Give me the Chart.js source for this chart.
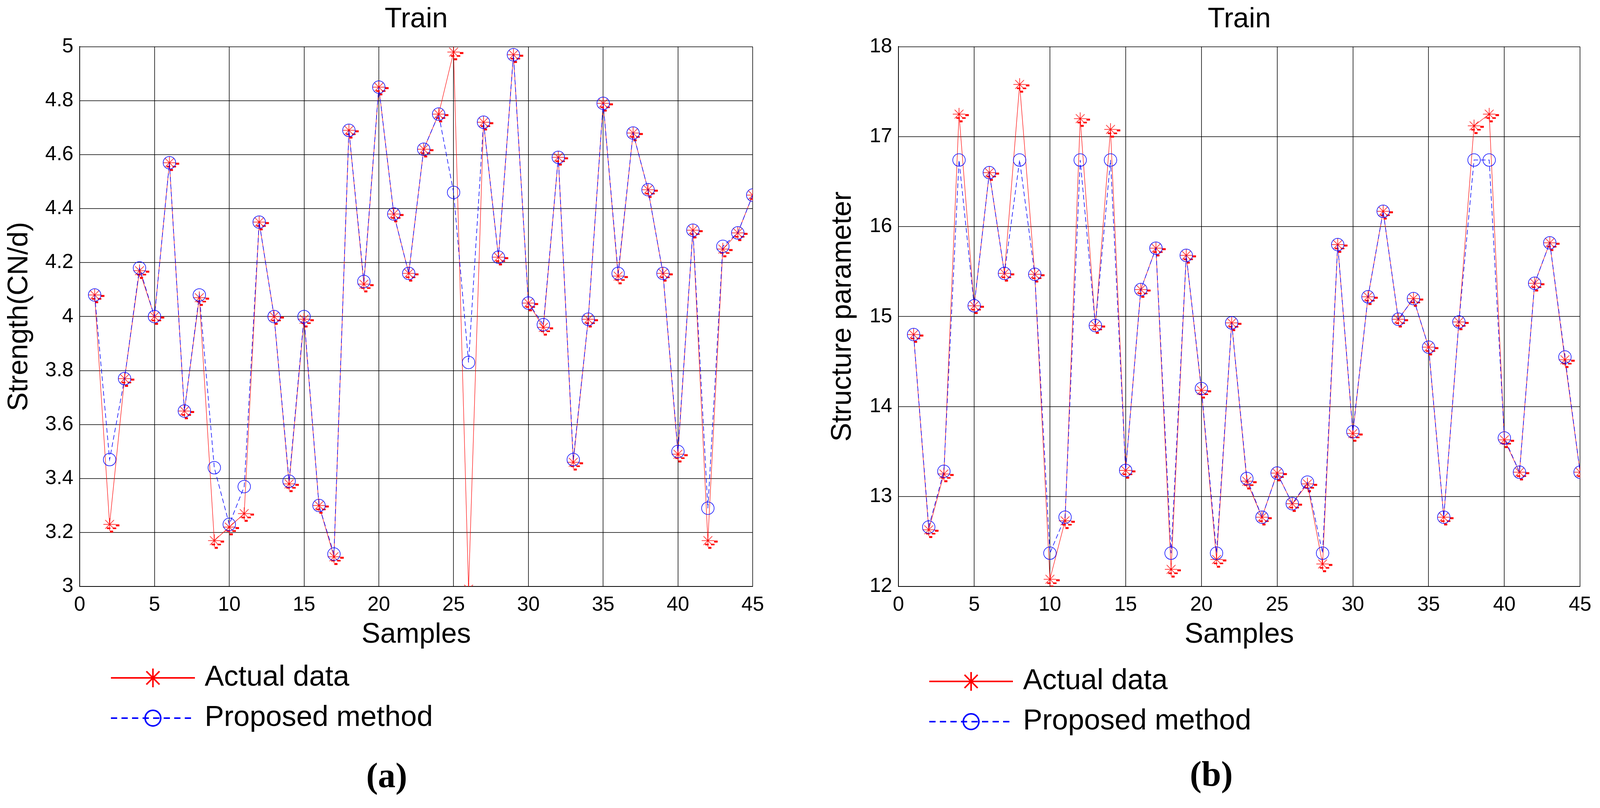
<!DOCTYPE html>
<html>
<head>
<meta charset="utf-8">
<title>Train</title>
<script src="https://cdn.jsdelivr.net/npm/chart.js@4.4.1/dist/chart.umd.min.js"></script>
<style>
  html, body { margin: 0; padding: 0; background: #fff; }
  canvas { position: absolute; top: 0; }
  #chartA { left: 0; }
  #chartB { left: 2052px; }
</style>
</head>
<body>
<canvas id="chartA" width="2052" height="2068"></canvas>
<canvas id="chartB" width="2052" height="2068"></canvas>
<script>
// sample numbers on the x axis
const samples = [1, 2, 3, 4, 5, 6, 7, 8, 9, 10, 11, 12, 13, 14, 15, 16, 17, 18, 19, 20, 21, 22, 23,
                 24, 25, 26, 27, 28, 29, 30, 31, 32, 33, 34, 35, 36, 37, 38, 39, 40, 41, 42, 43, 44, 45];

// (a) strength
const strengthActual = [4.08, 3.23, 3.77, 4.17, 4.00, 4.57, 3.65, 4.07, 3.17, 3.22, 3.27, 4.35, 4.00, 3.38, 3.99,
                        3.30, 3.11, 4.69, 4.12, 4.85, 4.38, 4.16, 4.62, 4.75, 4.98, 2.99, 4.72, 4.22, 4.97, 4.05,
                        3.96, 4.59, 3.46, 3.99, 4.79, 4.15, 4.68, 4.47, 4.16, 3.49, 4.32, 3.17, 4.25, 4.31, 4.45];
const strengthProposed = [4.08, 3.47, 3.77, 4.18, 4.00, 4.57, 3.65, 4.08, 3.44, 3.23, 3.37, 4.35, 4.00, 3.39, 4.00,
                          3.30, 3.12, 4.69, 4.13, 4.85, 4.38, 4.16, 4.62, 4.75, 4.46, 3.83, 4.72, 4.22, 4.97, 4.05,
                          3.97, 4.59, 3.47, 3.99, 4.79, 4.16, 4.68, 4.47, 4.16, 3.50, 4.32, 3.29, 4.26, 4.31, 4.45];

// (b) structure parameter
const structureActual = [14.80, 12.63, 13.25, 17.25, 15.12, 16.60, 15.48, 17.58, 15.47, 12.08, 12.73, 17.20, 14.90, 17.08, 13.29,
                         15.30, 15.76, 12.19, 15.68, 14.18, 12.30, 14.93, 13.17, 12.77, 13.26, 12.92, 13.14, 12.25, 15.80, 13.70,
                         15.22, 16.17, 14.97, 15.20, 14.66, 12.77, 14.94, 17.12, 17.25, 13.63, 13.27, 15.37, 15.82, 14.52, 13.27];
const structureProposed = [14.80, 12.66, 13.28, 16.74, 15.12, 16.60, 15.48, 16.74, 15.47, 12.37, 12.77, 16.74, 14.90, 16.74, 13.29,
                           15.30, 15.76, 12.37, 15.68, 14.20, 12.37, 14.93, 13.20, 12.77, 13.26, 12.92, 13.16, 12.37, 15.80, 13.72,
                           15.22, 16.17, 14.97, 15.20, 14.66, 12.77, 14.94, 16.74, 16.74, 13.65, 13.27, 15.37, 15.82, 14.55, 13.27];

const seriesNames = ['Actual data', 'Proposed method'];

Chart.defaults.font.family = '"Liberation Sans", Arial, sans-serif';
Chart.defaults.color = '#000';

// matlab style '*' marker
function drawStar(g, x, y, r) {
  const d = r * 0.7;
  g.beginPath();
  g.moveTo(x - r, y); g.lineTo(x + r, y);
  g.moveTo(x, y - r); g.lineTo(x, y + r);
  g.moveTo(x - d, y - d); g.lineTo(x + d, y + d);
  g.moveTo(x - d, y + d); g.lineTo(x + d, y - d);
  g.stroke();
}

// star plus the little red smudges the export left under every marker
function makeStarMarker() {
  const c = document.createElement('canvas');
  c.width = 64; c.height = 64;
  const g = c.getContext('2d');
  g.strokeStyle = '#ff0000';
  g.lineWidth = 1.5;
  drawStar(g, 32, 32, 16);
  g.fillStyle = '#ff0000';
  [[16, 0, 9, 5], [-7, 8, 9, 4], [8, 8, 9, 4], [1, 16, 8, 5]].forEach(b => {
    g.fillRect(32 + b[0], 32 + b[1], b[2], b[3]);
  });
  return c;
}
const starMarker = makeStarMarker();

// legend under the plot + (a)/(b) caption
const figLegend = {
  id: 'figLegend',
  afterDraw(chart, args, opts) {
    const ctx = chart.ctx;
    ctx.save();
    chart.data.datasets.forEach((ds, i) => {
      const y = opts.rows[i];
      ctx.strokeStyle = ds.borderColor;
      ctx.lineWidth = 4;
      ctx.setLineDash(ds.borderDash ? [16, 11] : []);
      ctx.beginPath();
      ctx.moveTo(opts.x1, y);
      ctx.lineTo(opts.x2, y);
      ctx.stroke();
      ctx.setLineDash([]);
      const mx = (opts.x1 + opts.x2) / 2;
      ctx.lineWidth = 4;
      if (i === 0) {
        drawStar(ctx, mx, y, 24);
      } else {
        ctx.beginPath();
        ctx.arc(mx, y, 20, 0, Math.PI * 2);
        ctx.stroke();
      }
      ctx.fillStyle = '#000';
      ctx.font = '74px "Liberation Sans", Arial, sans-serif';
      ctx.textBaseline = 'middle';
      ctx.textAlign = 'left';
      ctx.fillText(ds.label, opts.textX, y);
    });
    ctx.font = 'bold 90px "Liberation Serif", "Times New Roman", serif';
    ctx.textAlign = 'center';
    ctx.textBaseline = 'middle';
    ctx.fillText(opts.caption, opts.capX, opts.capY);
    ctx.restore();
  }
};

function buildChart(id, actual, proposed, yMin, yMax, yStep, yTitle, cfg) {
  const toPts = arr => arr.map((v, i) => ({ x: samples[i], y: v }));
  const ctx = document.getElementById(id).getContext('2d');
  return new Chart(ctx, {
    type: 'line',
    data: {
      datasets: [{
        label: seriesNames[0],
        data: toPts(actual),
        order: 1,
        borderColor: '#ff0000',
        borderWidth: 1.2,
        pointStyle: starMarker,
        pointRadius: 16,
        tension: 0,
        fill: false
      }, {
        label: seriesNames[1],
        data: toPts(proposed),
        order: 0,
        borderColor: '#0000ff',
        borderWidth: 1.5,
        borderDash: [12, 7],
        pointStyle: 'circle',
        pointRadius: 16,
        pointBorderWidth: 1.5,
        pointBorderColor: '#0000ff',
        pointBackgroundColor: 'rgba(0,0,0,0)',
        tension: 0,
        fill: false
      }]
    },
    options: {
      responsive: false,
      animation: false,
      devicePixelRatio: 1,
      layout: { padding: { left: 0, right: cfg.padRight, top: 0, bottom: 400 } },
      plugins: {
        legend: { display: false },
        tooltip: { enabled: false },
        title: {
          display: true,
          text: 'Train',
          fullSize: false,
          font: { size: 72, weight: 'normal' },
          padding: { top: 7, bottom: 26 }
        },
        figLegend: cfg.legend
      },
      scales: {
        x: {
          type: 'linear',
          min: 0,
          max: 45,
          afterFit: scale => { scale.height = 167; },
          ticks: { stepSize: 5, padding: 16, font: { size: 52 }, maxRotation: 0 },
          grid: { color: '#000', lineWidth: 1.5, drawTicks: false },
          border: { color: '#000', width: 2 },
          title: { display: true, text: 'Samples', font: { size: 72 }, padding: { top: 0, bottom: 0 } }
        },
        y: {
          min: yMin,
          max: yMax,
          afterFit: scale => { scale.width = cfg.yWidth; },
          ticks: {
            stepSize: yStep,
            padding: 16,
            font: { size: 52 },
            callback: v => String(parseFloat(Number(v).toFixed(1)))
          },
          grid: { color: '#000', lineWidth: 1.5, drawTicks: false },
          border: { color: '#000', width: 2 },
          title: { display: true, text: yTitle, font: { size: 72 }, padding: { top: cfg.yTitlePad, bottom: 0 } }
        }
      }
    },
    plugins: [figLegend]
  });
}

buildChart('chartA', strengthActual, strengthProposed, 3, 5, 0.2, 'Strength(CN/d)', {
  padRight: 125,
  yWidth: 204,
  yTitlePad: 7,
  legend: { x1: 284, x2: 499, textX: 524, rows: [1735, 1838], caption: '(a)', capX: 990, capY: 1992 }
});

buildChart('chartB', structureActual, structureProposed, 12, 18, 1, 'Structure parameter', {
  padRight: 59,
  yWidth: 248,
  yTitlePad: 63,
  legend: { x1: 327, x2: 541, textX: 567, rows: [1744, 1847], caption: '(b)', capX: 1049, capY: 1988 }
});
</script>
</body>
</html>
